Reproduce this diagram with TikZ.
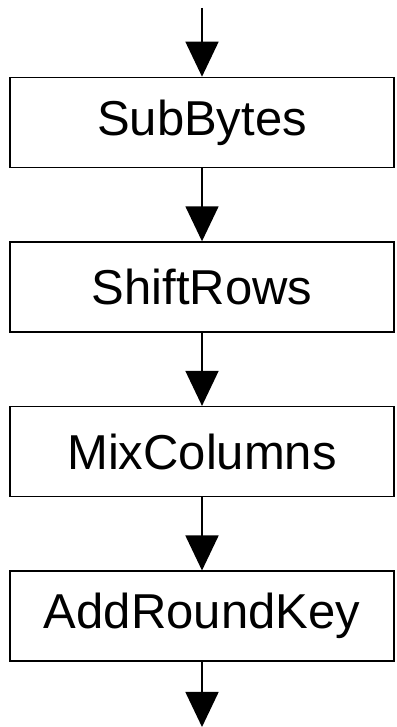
\documentclass[tikz,border=0pt]{standalone}
\usepackage{fontspec}
\setmainfont{Liberation Sans}
\usepackage{tikz}
\usetikzlibrary{positioning, arrows.meta}
\tikzstyle{stagebox} = [draw, line width=1.6pt, minimum width=384pt, minimum height=90pt, inner sep=0pt, font=\fontsize{49}{58}\selectfont]
\tikzstyle{arrow} = [line width=1.6pt,-{Triangle[width=33pt,length=35pt]}]

\begin{document}
\begin{tikzpicture}[x=1pt,y=1pt]
                \useasboundingbox (0,0) rectangle (396,727);
                \node[stagebox] (subbytes) at (202,604.5) {SubBytes};
                \node[stagebox, below=73pt of subbytes] (shiftrows) {ShiftRows};
                \node[stagebox, below=73pt of shiftrows] (mixcolumns) {MixColumns};
                \node[stagebox, below=73pt of mixcolumns] (addroundkey) {AddRoundKey};
                \coordinate (in) at (202,719);
                \coordinate (out) at (202,0);
                \draw[arrow] (in) -- (subbytes.north);
                \draw[arrow] (subbytes) -- (shiftrows);
                \draw[arrow] (shiftrows) -- (mixcolumns);
                \draw[arrow] (mixcolumns) -- (addroundkey);
                \draw[arrow] (addroundkey) -- (out);
            \end{tikzpicture}
\end{document}
